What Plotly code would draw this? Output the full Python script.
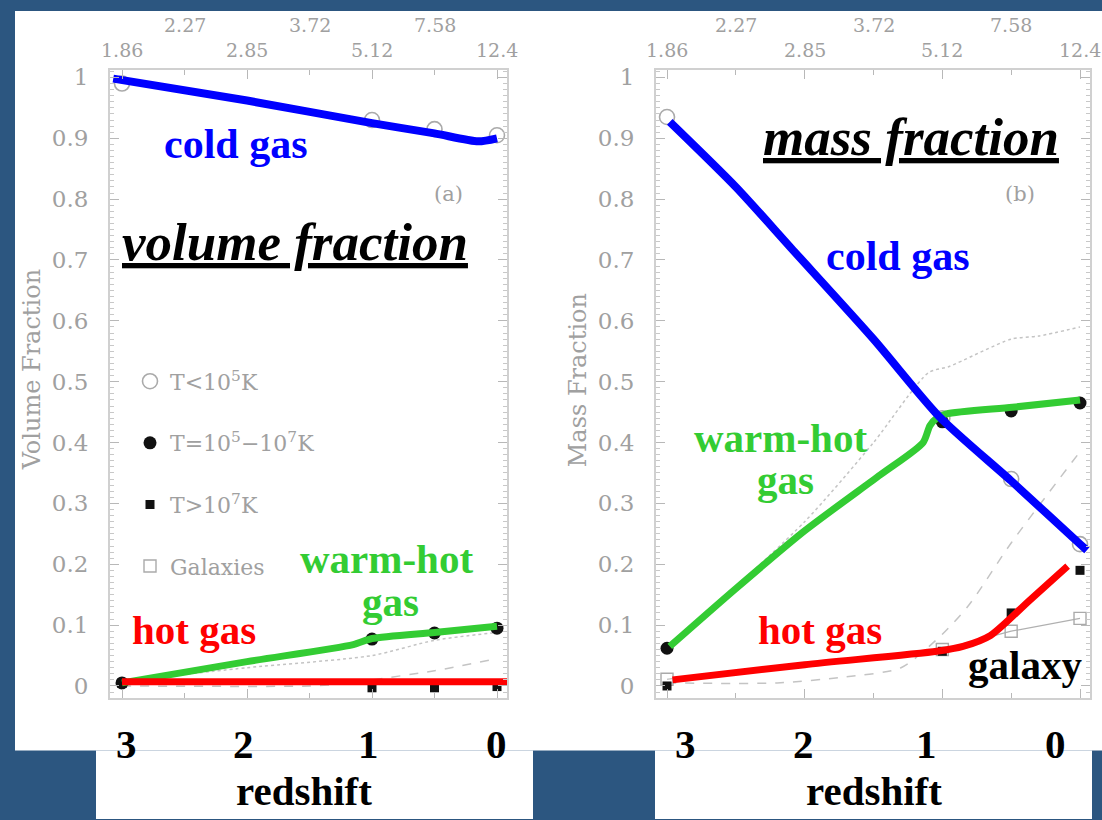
import plotly.graph_objects as go

W, H = 1102, 820


def px(x):
    return x / W


def py(y):
    return 1 - y / H


SERIF = "DejaVu Serif"
TIMES = "Liberation Serif"
BG_BLUE = "#2c5680"
GRAY_TXT = "#a0a0a0"

# ---------------- data ----------------
z_pts = [3, 1, 0.5, 0]

# (a) volume fraction
vol_cold_pts = [0.99, 0.93, 0.915, 0.905]
vol_warm_pts = [0.005, 0.077, 0.087, 0.095]
vol_hot_pts = [0.004, -0.003, -0.003, -0.001]

vol_cold_z = [3.07, 2.0, 1.0, 0.5, 0.15, 0.0]
vol_cold_v = [0.998, 0.962, 0.925, 0.908, 0.895, 0.9]
vol_warm_z = [3.0, 2.0, 1.15, 1.0, 0.5, 0.0]
vol_warm_v = [0.005, 0.04, 0.068, 0.078, 0.088, 0.098]
vol_hot_z = [3.0, -0.08]
vol_hot_v = [0.007, 0.007]
vol_dot_z = [3.0, 2.0, 1.0, 0.5, 0.0]
vol_dot_v = [0.008, 0.03, 0.05, 0.075, 0.088]
vol_dash_z = [3.0, 1.5, 1.2, 1.0, 0.5, 0.0]
vol_dash_v = [0.0, 0.0, 0.004, 0.01, 0.025, 0.045]

# (b) mass fraction
mass_cold_pts = [0.935, 0.44, 0.34, 0.233]
mass_warm_pts = [0.062, 0.434, 0.452, 0.465]
mass_hot_pts = [0.0, 0.057, 0.12, 0.19]
mass_gal_pts = [0.011, 0.06, 0.09, 0.111]

mass_cold_z = [2.98, 2.5, 2.1, 1.5, 1.02, 0.5, 0.0, -0.05]
mass_cold_v = [0.927, 0.82, 0.72, 0.57, 0.442, 0.337, 0.233, 0.223]
mass_warm_z = [2.98, 2.5, 2.0, 1.45, 1.14, 1.09, 1.04, 0.97, 0.49, 0.0]
mass_warm_v = [0.065, 0.16, 0.255, 0.347, 0.40, 0.428, 0.44, 0.447, 0.458, 0.47]
mass_hot_z = [2.96, 2.0, 1.04, 0.85, 0.65, 0.37, 0.09]
mass_hot_v = [0.01, 0.035, 0.057, 0.065, 0.083, 0.14, 0.197]
mass_dot_z = [3.0, 2.0, 1.5, 1.1, 0.95, 0.5, 0.3, 0.0]
mass_dot_v = [0.06, 0.27, 0.40, 0.515, 0.525, 0.57, 0.575, 0.59]
mass_dash_z = [3.0, 2.2, 1.7, 1.3, 1.0, 0.8, 0.5, 0.0]
mass_dash_v = [0.005, 0.005, 0.015, 0.03, 0.085, 0.135, 0.235, 0.385]

# axis labels
age_row1_z = [3, 2, 1, 0]
age_row1 = ["1.86", "2.85", "5.12", "12.4"]
age_row2_z = [2.5, 1.5, 0.5]
age_row2 = ["2.27", "3.72", "7.58"]
redshift_labels = ["3", "2", "1", "0"]

legend_names = ["T&lt;10<sup>5</sup>K", "T=10<sup>5</sup>\u221210<sup>7</sup>K",
                "T&gt;10<sup>7</sup>K", "Galaxies"]

# ---------------- figure ----------------
fig = go.Figure()

OPEN_C = dict(symbol="circle-open", size=15, color="#aaaaaa", line=dict(width=1.6, color="#aaaaaa"))
FILL_C = dict(symbol="circle", size=13, color="#111111")
FILL_S = dict(symbol="square", size=9, color="#111111")
OPEN_S = dict(symbol="square-open", size=12, color="#aaaaaa", line=dict(width=1.4, color="#aaaaaa"))


def markers(x, y, mk, xa, ya, name=None, show=False, rank=1000):
    fig.add_trace(go.Scatter(x=x, y=y, mode="markers", marker=mk, xaxis=xa, yaxis=ya,
                             name=name or "", showlegend=show, legendgroup=name or None,
                             legendrank=rank, cliponaxis=False, hoverinfo="skip"))


def line(x, y, color, width, xa, ya, dash="solid", spline=True):
    fig.add_trace(go.Scatter(x=x, y=y, mode="lines",
                             line=dict(color=color, width=width, dash=dash,
                                       shape="spline" if spline else "linear", smoothing=0.7),
                             xaxis=xa, yaxis=ya, showlegend=False, hoverinfo="skip"))


# faint model lines
line(vol_dot_z, vol_dot_v, "#c4c4c4", 1.5, "x", "y", dash="dot")
line(vol_dash_z, vol_dash_v, "#c4c4c4", 1.5, "x", "y", dash="dash")
line(mass_dot_z, mass_dot_v, "#c4c4c4", 1.5, "x2", "y2", dash="dot")
line(mass_dash_z, mass_dash_v, "#c4c4c4", 1.5, "x2", "y2", dash="dash")
line(z_pts, mass_gal_pts, "#b0b0b0", 1.2, "x2", "y2", spline=False)

# markers
markers(z_pts, vol_cold_pts, OPEN_C, "x", "y", legend_names[0], True, 1)
markers(z_pts, vol_warm_pts, FILL_C, "x", "y", legend_names[1], True, 2)
markers(z_pts, vol_hot_pts, FILL_S, "x", "y", legend_names[2], True, 3)
markers(z_pts, mass_gal_pts, OPEN_S, "x2", "y2", legend_names[3], True, 4)
markers(z_pts, mass_cold_pts, OPEN_C, "x2", "y2")
markers(z_pts, mass_warm_pts, FILL_C, "x2", "y2")
markers(z_pts, mass_hot_pts, FILL_S, "x2", "y2")

# thick highlight lines
GREEN, BLUE, RED = "#33cc33", "#0000ff", "#ff0000"
line(vol_warm_z, vol_warm_v, GREEN, 7, "x", "y")
line(vol_hot_z, vol_hot_v, RED, 7, "x", "y", spline=False)
line(vol_cold_z, vol_cold_v, BLUE, 8, "x", "y")
line(mass_warm_z, mass_warm_v, GREEN, 7, "x2", "y2")
line(mass_hot_z, mass_hot_v, RED, 7, "x2", "y2")
line(mass_cold_z, mass_cold_v, BLUE, 8, "x2", "y2")

# ---------------- axes ----------------
Y_RANGE = [-0.0196, 1.013]
Y_DOMAIN = [py(698), py(65)]
TICKC = "#b8b8b8"
LINEC = "#d0d0d0"


def yaxis_cfg(anchor):
    return dict(range=Y_RANGE, domain=Y_DOMAIN, anchor=anchor, tick0=0, dtick=0.1,
                ticks="inside", ticklen=9, tickwidth=1.2, tickcolor=TICKC,
                mirror="ticks", showline=True, linecolor=LINEC, linewidth=2,
                showgrid=False, zeroline=False, ticklabelstandoff=15,
                tickfont=dict(family=SERIF, size=23, color=GRAY_TXT),
                minor=dict(tick0=0, dtick=0.01, ticks="inside", ticklen=4,
                           tickcolor="#c8c8c8", showgrid=False))


def xaxis_cfg(domain, rng, anchor):
    return dict(domain=domain, range=rng, anchor=anchor, tickmode="array",
                tickvals=age_row1_z, showticklabels=False,
                ticks="inside", ticklen=9, tickwidth=1.2, tickcolor=TICKC,
                mirror="ticks", showline=True, linecolor=LINEC, linewidth=2,
                showgrid=False, zeroline=False,
                minor=dict(tick0=0, dtick=0.5, ticks="inside", ticklen=5,
                           tickcolor=TICKC, showgrid=False))


XL_RANGE = [3.096, -0.08]
XR_RANGE = [3.080, -0.0726]

fig.update_layout(
    width=W, height=H, margin=dict(l=0, r=0, t=0, b=0),
    paper_bgcolor=BG_BLUE, plot_bgcolor="white",
    xaxis=xaxis_cfg([px(110), px(507)], XL_RANGE, "y"),
    yaxis=yaxis_cfg("x"),
    xaxis2=xaxis_cfg([px(656), px(1090)], XR_RANGE, "y2"),
    yaxis2=yaxis_cfg("x2"),
    legend=dict(x=px(130), y=py(358), xanchor="left", yanchor="top",
                bgcolor="rgba(0,0,0,0)", traceorder="grouped", tracegroupgap=30,
                font=dict(family=SERIF, size=22, color=GRAY_TXT), itemclick=False),
    showlegend=True,
)

# white panels behind everything
for x0, x1, y0, y1 in [(15, 1102, 6, 751), (96, 533, 751, 820), (655, 1092, 751, 820)]:
    fig.add_shape(type="rect", xref="paper", yref="paper", x0=px(x0), x1=px(x1),
                  y0=py(y1), y1=py(y0), fillcolor="white", line=dict(width=0), layer="below")


def ann(text, x, y, size, color, family=TIMES, angle=0, underline=False):
    f = dict(family=family, size=size, color=color)
    if underline:
        f["lineposition"] = "under"
    fig.add_annotation(text=text, x=px(x), y=py(y), xref="paper", yref="paper",
                       showarrow=False, font=f, textangle=angle,
                       xanchor="center", yanchor="middle")


# top age tick labels, placed on each panel's x axis
for xa in ("x", "x2"):
    for z, t in zip(age_row1_z, age_row1):
        fig.add_annotation(text=t, x=z, xref=xa, y=py(45), yref="paper", showarrow=False,
                           font=dict(family=SERIF, size=19, color=GRAY_TXT),
                           xanchor="center", yanchor="middle")
    for z, t in zip(age_row2_z, age_row2):
        fig.add_annotation(text=t, x=z, xref=xa, y=py(20), yref="paper", showarrow=False,
                           font=dict(family=SERIF, size=19, color=GRAY_TXT),
                           xanchor="center", yanchor="middle")

# panel (a)
ann("<b>cold gas</b>", 236, 140, 42, BLUE)
ann("(a)", 448, 190, 21, GRAY_TXT, family=SERIF)
ann("<b><i>volume fraction</i></b>", 295, 239, 53, "black", underline=True)
ann("<b>warm-hot</b>", 386, 558, 41, GREEN)
ann("<b>gas</b>", 390, 601, 41, GREEN)
ann("<b>hot gas</b>", 194, 630, 41, RED)
ann("Volume Fraction", 32, 368, 24, GRAY_TXT, family=SERIF, angle=-90)

# panel (b)
ann("<b><i>mass fraction</i></b>", 911, 133, 53, "black", underline=True)
ann("(b)", 1020, 190, 21, GRAY_TXT, family=SERIF)
ann("<b>cold gas</b>", 898, 253, 42, BLUE)
ann("<b>warm-hot</b>", 780, 436, 41, GREEN)
ann("<b>gas</b>", 785, 478, 41, GREEN)
ann("<b>hot gas</b>", 820, 630, 41, RED)
ann("<b>galaxy</b>", 1025, 665, 41, "black")
ann("Mass Fraction", 578, 378, 24, GRAY_TXT, family=SERIF, angle=-90)

# bold redshift labels
left_lab_x = [126, 243, 368, 496]
right_lab_x = [685, 803, 926, 1055]
for t, xl, xr in zip(redshift_labels, left_lab_x, right_lab_x):
    ann("<b>%s</b>" % t, xl, 744, 41, "black")
    ann("<b>%s</b>" % t, xr, 744, 41, "black")
ann("<b>redshift</b>", 304, 792, 41, "black")
ann("<b>redshift</b>", 874, 792, 41, "black")

fig.write_html("out.html")
